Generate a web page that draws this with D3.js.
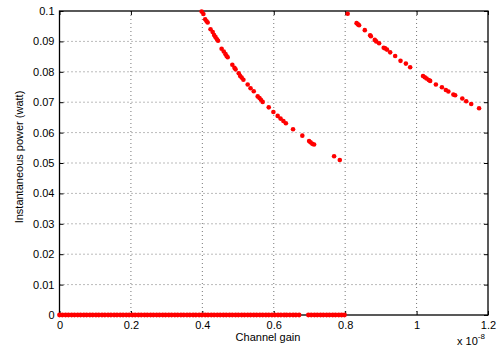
<!DOCTYPE html>
<html><head><meta charset="utf-8">
<script src="https://cdn.jsdelivr.net/npm/d3@7"></script>
<style>body{margin:0;background:#fff}svg{display:block;font-family:"Liberation Sans",Arial,sans-serif}</style>
</head><body><svg id="c" width="500" height="352"></svg>
<script>
const xTicks = [0,0.2,0.4,0.6,0.8,1,1.2];
const xTickLabels = ["0","0.2","0.4","0.6","0.8","1","1.2"];
const yTicks = [0,0.01,0.02,0.03,0.04,0.05,0.06,0.07,0.08,0.09,0.1];
const yTickLabels = ["0","0.01","0.02","0.03","0.04","0.05","0.06","0.07","0.08","0.09","0.1"];

// points at zero power (channel gain, x 1e-8)
const zeroX = [0.000,0.008,0.017,0.025,0.034,0.042,0.051,0.059,0.068,0.076,0.085,0.093,0.102,0.110,0.119,0.127,0.136,0.144,0.153,0.161,0.170,0.178,0.187,0.195,0.204,0.212,0.221,0.229,0.238,0.246,0.255,0.263,0.272,0.280,0.289,0.297,0.306,0.314,0.323,0.331,0.340,0.348,0.357,0.365,0.374,0.382,0.391,0.399,0.408,0.416,0.425,0.433,0.442,0.450,0.459,0.467,0.476,0.484,0.493,0.501,0.510,0.518,0.527,0.535,0.544,0.552,0.561,0.569,0.578,0.586,0.595,0.603,0.612,0.620,0.629,0.636,0.645,0.654,0.662,0.671,0.697,0.705,0.714,0.722,0.731,0.739,0.748,0.756,0.765,0.773,0.782,0.790,0.798];

// first branch
const branch1X = [0.398,0.403,0.408,0.412,0.415,0.423,0.429,0.433,0.437,0.441,0.444,0.454,0.460,0.465,0.468,0.471,0.484,0.490,0.493,0.502,0.506,0.510,0.515,0.527,0.535,0.544,0.555,0.560,0.564,0.569,0.586,0.599,0.611,0.619,0.627,0.634,0.654,0.680,0.699,0.703,0.708,0.713,0.769,0.785];
const branch1Y = [0.0998,0.0990,0.0973,0.0966,0.0962,0.0940,0.0931,0.0921,0.0914,0.0907,0.0902,0.0876,0.0867,0.0858,0.0852,0.0848,0.0823,0.0813,0.0808,0.0795,0.0786,0.0781,0.0774,0.0758,0.0746,0.0736,0.0719,0.0714,0.0708,0.0701,0.0683,0.0668,0.0655,0.0646,0.0638,0.0631,0.0611,0.0590,0.0572,0.0568,0.0563,0.0561,0.0522,0.0510];

// second branch
const branch2X = [0.807,0.832,0.836,0.839,0.855,0.870,0.872,0.883,0.887,0.895,0.908,0.912,0.917,0.926,0.940,0.955,0.970,0.982,1.018,1.023,1.028,1.034,1.038,1.054,1.071,1.082,1.089,1.103,1.108,1.128,1.139,1.153,1.175];
const branch2Y = [0.0991,0.0960,0.0956,0.0953,0.0937,0.0920,0.0917,0.0905,0.0900,0.0894,0.0879,0.0877,0.0873,0.0864,0.0852,0.0836,0.0827,0.0815,0.0786,0.0782,0.0778,0.0773,0.0770,0.0758,0.0749,0.0740,0.0735,0.0725,0.0723,0.0712,0.0703,0.0694,0.0680];

const L = 59.5, R = 488, T = 11, B = 315;
const x = d3.scaleLinear().domain([0,1.2]).range([L,R]);
const y = d3.scaleLinear().domain([0,0.1]).range([B,T]);
const svg = d3.select("#c");

// grid
const g = svg.append("g");
g.selectAll(".vx").data(xTicks.slice(1,-1)).join("line")
  .attr("x1",d=>x(d)).attr("x2",d=>x(d)).attr("y1",T).attr("y2",B)
  .attr("stroke","#777").attr("stroke-width",1).attr("stroke-dasharray","1,3");
g.selectAll(".hy").data(yTicks.slice(1,-1)).join("line")
  .attr("x1",L).attr("x2",R).attr("y1",d=>y(d)).attr("y2",d=>y(d))
  .attr("stroke","#777").attr("stroke-width",1).attr("stroke-dasharray","1,3");

// axes with inward ticks
const fs = "11px";
const ax = svg.append("g").attr("transform",`translate(0,${B})`)
  .call(d3.axisBottom(x).tickValues(xTicks).tickSize(-4).tickPadding(6).tickFormat((d,i)=>xTickLabels[i]));
const axT = svg.append("g").attr("transform",`translate(0,${T})`)
  .call(d3.axisTop(x).tickValues(xTicks).tickSize(-4).tickFormat(""));
const ay = svg.append("g").attr("transform",`translate(${L},0)`)
  .call(d3.axisLeft(y).tickValues(yTicks).tickSize(-4).tickPadding(5).tickFormat((d,i)=>yTickLabels[i]));
const ayR = svg.append("g").attr("transform",`translate(${R},0)`)
  .call(d3.axisRight(y).tickValues(yTicks).tickSize(-4).tickFormat(""));
[ax,axT,ay,ayR].forEach(a=>{
  a.select(".domain").remove();
  a.selectAll("line").attr("stroke","#000").attr("stroke-width",1);
  a.selectAll("text").attr("font-size",fs).attr("fill","#000").attr("font-family","Liberation Sans, Arial, sans-serif");
});
svg.append("rect").attr("x",L).attr("y",T).attr("width",R-L).attr("height",B-T)
  .attr("fill","none").attr("stroke","#000").attr("stroke-width",1.3);

// data
const pts = svg.append("g").attr("fill","#ff0000");
pts.selectAll(".z").data(zeroX).join("circle").attr("cx",d=>x(d)).attr("cy",y(0)).attr("r",2.4);
pts.selectAll(".b1").data(branch1X).join("circle").attr("cx",d=>x(d)).attr("cy",(d,i)=>y(branch1Y[i])).attr("r",2.3);
pts.selectAll(".b2").data(branch2X).join("circle").attr("cx",d=>x(d)).attr("cy",(d,i)=>y(branch2Y[i])).attr("r",2.3);

// labels
svg.append("text").attr("x",268).attr("y",341).attr("text-anchor","middle").attr("font-size",fs).text("Channel gain");
svg.append("text").attr("transform","translate(23,157) rotate(-90)").attr("text-anchor","middle").attr("font-size",fs).text("Instantaneous power (watt)");
const ex = svg.append("text").attr("x",457).attr("y",345).attr("font-size",fs);
ex.append("tspan").text("x 10");
ex.append("tspan").attr("dy",-6).attr("font-size","8px").text("-8");
</script></body></html>
